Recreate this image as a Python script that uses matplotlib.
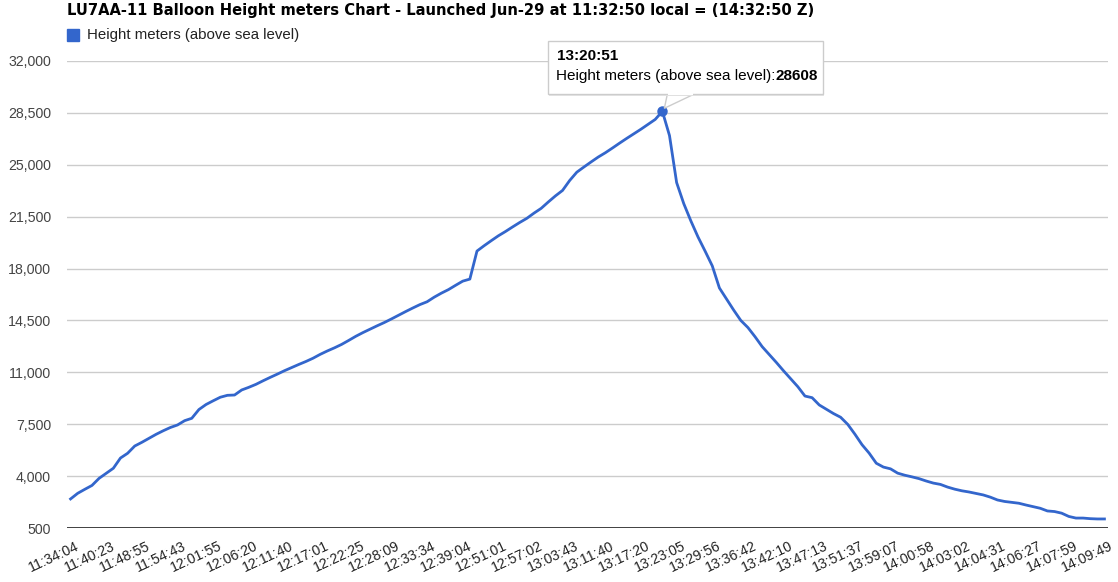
import numpy as np
import matplotlib.pyplot as plt
import matplotlib.transforms as mtransforms
from matplotlib.patches import Rectangle, Polygon

# tick labels shown on the x axis (one every 5 readings)
time_labels = ["11:34:04", "11:40:23", "11:48:55", "11:54:43", "12:01:55", "12:06:20",
               "12:11:40", "12:17:01", "12:22:25", "12:28:09", "12:33:34", "12:39:04",
               "12:51:01", "12:57:02", "13:03:43", "13:11:40", "13:17:20", "13:23:05",
               "13:29:56", "13:36:42", "13:42:10", "13:47:13", "13:51:37", "13:59:07",
               "14:00:58", "14:03:02", "14:04:31", "14:06:27", "14:07:59", "14:09:49"]
label_step = 5

# height readings (m)
height = [
    2460, 2840, 3110, 3370, 3850, 4190, 4530, 5220, 5540, 6030,
    6280, 6550, 6820, 7060, 7280, 7450, 7740, 7900, 8490, 8830,
    9080, 9320, 9450, 9470, 9810, 9990, 10190, 10430, 10660, 10880,
    11110, 11320, 11530, 11730, 11950, 12210, 12440, 12650, 12880, 13150,
    13430, 13680, 13910, 14140, 14360, 14600, 14850, 15100, 15340, 15570,
    15760, 16070, 16340, 16580, 16870, 17150, 17290, 19180, 19540, 19880,
    20210, 20500, 20810, 21110, 21390, 21740, 22060, 22490, 22900, 23270,
    23940, 24500, 24850, 25190, 25520, 25810, 26130, 26460, 26780, 27090,
    27400, 27730, 28060, 28608, 26970, 23800, 22380, 21210, 20130, 19170,
    18180, 16690, 15940, 15200, 14500, 14020, 13400, 12730, 12200, 11660,
    11100, 10570, 10030, 9400, 9290, 8800, 8510, 8220, 7970, 7490,
    6830, 6120, 5550, 4870, 4610, 4490, 4200, 4060, 3950, 3830,
    3670, 3530, 3440, 3260, 3120, 3010, 2930, 2830, 2730, 2580,
    2390, 2290, 2230, 2170, 2050, 1940, 1830, 1650, 1610, 1500,
    1280, 1170, 1170, 1130, 1110, 1110,
]
y_ticks = [500, 4000, 7500, 11000, 14500, 18000, 21500, 25000, 28500, 32000]

title = "LU7AA-11 Balloon Height meters Chart - Launched Jun-29 at 11:32:50 local = (14:32:50 Z)"
series_name = "Height meters (above sea level)"
peak_time = "13:20:51"

plt.rcParams['font.family'] = ['Liberation Sans', 'DejaVu Sans']
W, H = 1118, 582
fig = plt.figure(figsize=(W / 100, H / 100), dpi=100)
ax = fig.add_axes([67 / W, (H - 528) / H, 1041 / W, 467 / H])

x = np.arange(len(height))
ax.plot(x, height, color='#3366cc', lw=2.0, solid_joinstyle='round', zorder=3)

ax.set_xlim(-0.5, len(height) - 0.5)
ax.set_ylim(y_ticks[0], y_ticks[-1])
ax.set_yticks(y_ticks)
ax.set_yticklabels([f"{v:,}" for v in y_ticks], fontsize=10.2, color='#444444')
ax.grid(axis='y', color='#cccccc', lw=1)
ax.set_axisbelow(True)
for s in ax.spines.values():
    s.set_visible(False)
ax.axhline(y_ticks[0], color='#333333', lw=1.3, zorder=2)
ax.tick_params(axis='y', length=0, pad=11.5)

xt = np.arange(0, len(height), label_step)
ax.set_xticks(xt)
ax.set_xticklabels(time_labels[:len(xt)], rotation=25, ha='right', va='top',
                   rotation_mode='anchor', fontsize=10.2, color='#222222')
ax.tick_params(axis='x', length=0, pad=8)
shift = mtransforms.ScaledTranslation(5 / 100, 0, fig.dpi_scale_trans)
for lbl in ax.get_xticklabels():
    lbl.set_transform(lbl.get_transform() + shift)

# title and legend
fig.text(67 / W, 1 - 10 / H, title, fontsize=10.6, fontweight='bold',
         family='DejaVu Sans', ha='left', va='center', color='#000000')
fig.patches.append(Rectangle((67 / W, 1 - 41 / H), 12 / W, 12 / H,
                             transform=fig.transFigure, color='#3366cc'))
fig.text(87 / W, 1 - 35 / H, series_name, fontsize=10.8, ha='left', va='center',
         color='#222222')

# tooltip at the peak
ipk = int(np.argmax(height))
fig.canvas.draw()
px, py = ax.transData.transform((ipk, height[ipk]))
ax.plot(ipk, height[ipk], 'o', color='#3366cc', ms=6.5, zorder=4, clip_on=False)
bx0, by0, bw, bh = 548, H - 94, 275, 53
tail = Polygon([(px + 5, by0), (px + 32, by0), (px + 2, py + 3)], closed=True,
               transform=None, facecolor='white', edgecolor='#cccccc', lw=1, zorder=5)
fig.patches.append(tail)
shadow = Rectangle((bx0 + 1, by0 - 2), bw, bh, transform=None, facecolor='#e6e6e6',
                   edgecolor='none', zorder=5)
box = Rectangle((bx0, by0), bw, bh, transform=None, facecolor='white',
                edgecolor='#cccccc', lw=1, zorder=6)
fig.patches.extend([shadow, box])
fig.patches.append(Rectangle((px + 6, by0 - 1), 25, 3, transform=None,
                             facecolor='white', edgecolor='none', zorder=7))
fig.text(557 / W, 1 - 56 / H, peak_time, fontsize=11, fontweight='bold',
         ha='left', va='center', color='#000000', zorder=8)
t1 = fig.text(556 / W, 1 - 76 / H, series_name + ":", fontsize=11, ha='left',
              va='center', color='#000000', zorder=8)
fig.canvas.draw()
bb = t1.get_window_extent()
fig.text(bb.x1 / W, 1 - 76 / H, f"{height[ipk]}", fontsize=11, fontweight='bold',
         ha='left', va='center', color='#000000', zorder=8)

fig.savefig("out.png", dpi=100)
